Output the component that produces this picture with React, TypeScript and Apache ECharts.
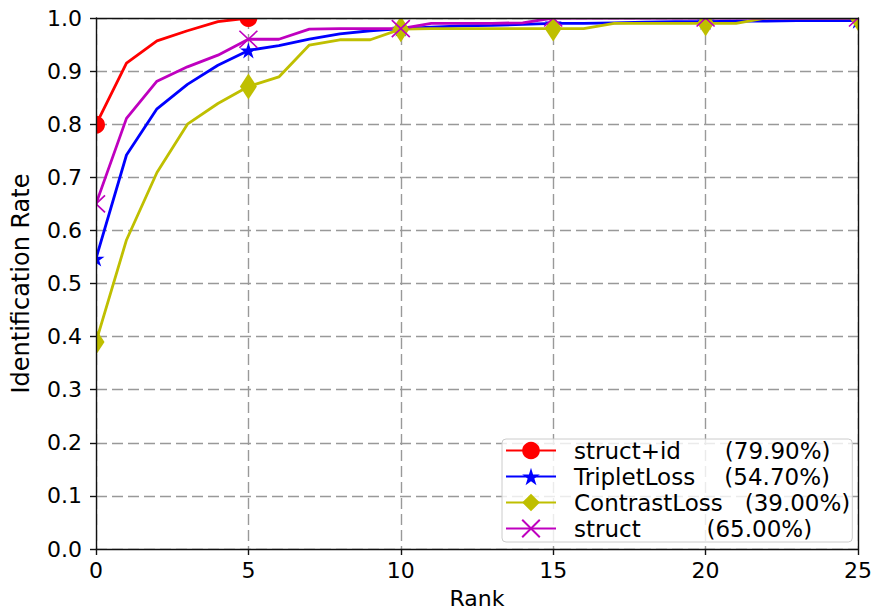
import { useEffect, useRef } from "react";
import * as echarts from "echarts";

const ranks = [0, 1, 2, 3, 4, 5, 6, 7, 8, 9, 10, 11, 12, 13, 14, 15, 16, 17, 18, 19, 20, 21, 22, 23, 24, 25];
const xTicks = [0, 5, 10, 15, 20, 25];

const structIdVals = [0.799, 0.915, 0.957, 0.976, 0.993, 1.0];
const tripletVals = [0.547, 0.742, 0.829, 0.875, 0.911, 0.939, 0.948, 0.96, 0.97, 0.976, 0.98, 0.983, 0.985, 0.986, 0.988, 0.99, 0.99, 0.991, 0.992, 0.993, 0.993, 0.994, 0.994, 0.995, 0.995, 0.995];
const contrastVals = [0.39, 0.582, 0.709, 0.8, 0.839, 0.871, 0.889, 0.949, 0.959, 0.959, 0.979, 0.98, 0.98, 0.98, 0.98, 0.98, 0.98, 0.99, 0.99, 0.99, 0.99, 0.99, 1.0, 1.0, 1.0, 1.0];
const structVals = [0.65, 0.811, 0.881, 0.908, 0.93, 0.96, 0.96, 0.979, 0.98, 0.98, 0.98, 0.99, 0.99, 0.99, 0.991, 1.0, 1.0, 1.0, 1.0, 1.0, 1.0, 1.0, 1.0, 1.0, 1.0, 1.0];

const legendNames = [
  "struct+id      (79.90%)",
  "TripletLoss    (54.70%)",
  "ContrastLoss   (39.00%)",
  "struct         (65.00%)",
];

const FONT = "DejaVu Sans";

function starPath(): string {
  const pts: string[] = [];
  for (let i = 0; i < 10; i++) {
    const a = ((-90 + 36 * i) * Math.PI) / 180;
    const r = i % 2 === 0 ? 50 : 19;
    pts.push(`${(50 + r * Math.cos(a)).toFixed(2)},${(50 + r * Math.sin(a)).toFixed(2)}`);
  }
  return "path://M" + pts.join("L") + "Z";
}

const X_PATH = "path://M0,0L10,10M10,0L0,10";

function makeSeries(name: string, vals: number[], color: string, symbol: string, symbolSize: any, itemExtra: any = {}) {
  return {
    type: "line",
    name,
    xAxisIndex: 0,
    yAxisIndex: 0,
    z: 2,
    clip: false,
    symbol,
    symbolSize,
    showAllSymbol: true,
    data: vals.map((v, i) => ({
      value: [ranks[i], v],
      symbol: ranks[i] % 5 === 0 ? symbol : "none",
    })),
    lineStyle: { color, width: 2.8 },
    itemStyle: { color, ...itemExtra },
    emphasis: { disabled: true },
    silent: true,
  };
}

export default function App() {
  const ref = useRef<HTMLDivElement>(null);
  useEffect(() => {
    document.body.style.margin = "0";
    const chart = echarts.init(ref.current!, null, { renderer: "svg" });
    const L = 96, R = 858, T = 18, B = 549, W = 874, H = 612;
    const gridLine = { show: true, lineStyle: { color: "#999999", width: 1.4, type: [11, 5] } };
    const blackLine = { show: true, onZero: false, lineStyle: { color: "#111111", width: 1.4 } };
    const labelStyle = { color: "#000", fontFamily: FONT, fontSize: 22 };
    const option: any = {
      animation: false,
      backgroundColor: "#ffffff",
      grid: { left: L, right: W - R, top: T, bottom: H - B, containLabel: false, outerBoundsMode: "none" },
      xAxis: [
        { type: "value", min: 0, max: 25, interval: 5, z: 0, splitLine: gridLine, axisLine: { show: false }, axisTick: { show: false }, axisLabel: { show: false } },
        {
          type: "value", position: "bottom", min: 0, max: 25, interval: 5, z: 4,
          splitLine: { show: false }, axisLine: blackLine,
          axisTick: { show: true, inside: false, length: 6, lineStyle: { color: "#111", width: 1.4 } },
          axisLabel: { ...labelStyle, margin: 10, customValues: xTicks },
          name: "Rank", nameLocation: "middle", nameGap: 38,
          nameTextStyle: { color: "#000", fontFamily: FONT, fontSize: 22, lineHeight: 22 },
        },
        { type: "value", position: "top", min: 0, max: 25, z: 4, splitLine: { show: false }, axisLine: blackLine, axisTick: { show: false }, axisLabel: { show: false } },
      ],
      yAxis: [
        { type: "value", min: 0, max: 1, interval: 0.1, z: 0, splitLine: gridLine, axisLine: { show: false }, axisTick: { show: false }, axisLabel: { show: false } },
        {
          type: "value", position: "left", min: 0, max: 1, interval: 0.1, z: 4,
          splitLine: { show: false }, axisLine: blackLine,
          axisTick: { show: true, inside: false, length: 6, lineStyle: { color: "#111", width: 1.4 } },
          axisLabel: { ...labelStyle, margin: 14, formatter: (v: number) => v.toFixed(1) },
          name: "Identification Rate", nameLocation: "middle", nameGap: 63,
          nameTextStyle: { color: "#000", fontFamily: FONT, fontSize: 24 },
        },
        { type: "value", position: "right", min: 0, max: 1, z: 4, splitLine: { show: false }, axisLine: blackLine, axisTick: { show: false }, axisLabel: { show: false } },
      ],
      graphic: [
        { type: "rect", z: 3, silent: true, shape: { x: 0, y: 0, width: L, height: H }, style: { fill: "#fff" } },
        { type: "rect", z: 3, silent: true, shape: { x: 0, y: 0, width: W, height: T }, style: { fill: "#fff" } },
        { type: "rect", z: 3, silent: true, shape: { x: R, y: 0, width: W - R, height: H }, style: { fill: "#fff" } },
        { type: "rect", z: 3, silent: true, shape: { x: 0, y: B, width: W, height: H - B }, style: { fill: "#fff" } },
      ],
      legend: {
        z: 6,
        left: 502,
        top: 439,
        orient: "vertical",
        data: legendNames,
        itemWidth: 50,
        itemHeight: 22,
        itemGap: 3,
        padding: [0, 2, 2, 3],
        backgroundColor: "rgba(255,255,255,0.8)",
        borderColor: "#cccccc",
        borderWidth: 1,
        borderRadius: 4,
        selectedMode: false,
        textStyle: { color: "#000", fontFamily: FONT, fontSize: 23, lineHeight: 22, padding: [0, 0, 0, 13] },
      },
      series: [
        makeSeries(legendNames[0], structIdVals, "#ff0000", "circle", 18),
        makeSeries(legendNames[1], tripletVals, "#0000ff", starPath(), [17, 16]),
        makeSeries(legendNames[2], contrastVals, "#bfbf00", "diamond", [17, 26]),
        makeSeries(legendNames[3], structVals, "#bf00bf", X_PATH, [18, 17], { borderColor: "#bf00bf", borderWidth: 1.6 }),
      ],
    };
    chart.setOption(option);
    return () => chart.dispose();
  }, []);
  return <div ref={ref} style={{ width: 874, height: 612 }} />;
}
